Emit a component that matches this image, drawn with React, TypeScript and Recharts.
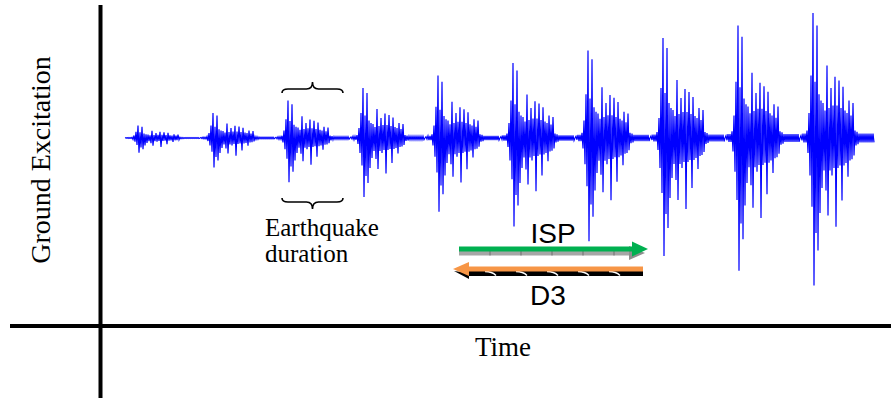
// Incremental scaling of one ground-motion record (ISP) vs. D3
// each burst is the same record, scaled up step by step

import { LineChart, Line, XAxis, YAxis, ReferenceLine } from 'recharts'

const DT = 0.2 // s between samples

// normalised ground motion
const record = [
    // pre-event
    0, 0.02, -0.02, 0.035, -0.035, 0.035, -0.035, 0.06,
    // strong motion
    -0.12, 0.2, -0.3, 0.5, -0.55, 1.0, -1.18, 0.45, -0.76, 0.9,
    -0.9, 0.35, -0.6, 0.3, -0.4, 0.28, -0.26, 0.22, -0.42, 0.58,
    -0.62, 0.24, -0.26, 0.4, -0.3, 0.26, -0.24, 0.49, -0.71, 0.26,
    -0.24, 0.46, -0.22, 0.24, -0.5, 0.41, -0.22, 0.22, -0.2, 0.2,
    -0.31, 0.3, -0.18, 0.18, -0.17, 0.28, -0.14,
    // coda
    0.06, -0.06, 0.05, -0.05, 0.035, -0.035, 0.035, -0.035, 0.035, -0.035,
    0.035, -0.035, 0.035, -0.035, 0.035, -0.035, 0.035, -0.035, 0.035, -0.035,
]

// intensity levels
const scaleFactors = [0.1, 0.2, 0.3, 0.4, 0.5, 0.6, 0.7, 0.8, 0.9, 1.0]

const data = scaleFactors.flatMap((s, k) =>
    record.map((a, i) => ({
        t: +((k * record.length + i) * DT).toFixed(2),
        acc: +(s * a).toFixed(4),
    }))
)

const SERIF = '"Liberation Serif", "Times New Roman", serif'
const SANS = '"Liberation Sans", Arial, sans-serif'

const brace = (dir: number) => (p: any) => {
    const { x1, x2, y1: y } = p
    const cx = (x1 + x2) / 2
    const h = 4 * dir
    const tip = 11 * dir
    const d = `M${x1},${y} Q${x1},${y - h} ${x1 + 6},${y - h} L${cx - 6},${y - h} ` +
        `Q${cx},${y - h} ${cx},${y - tip} Q${cx},${y - h} ${cx + 6},${y - h} ` +
        `L${x2 - 6},${y - h} Q${x2},${y - h} ${x2},${y}`
    return <path d={d} fill="none" stroke="#000" strokeWidth={1.6} />
}

const IspArrow = (p: any) => {
    const { x1, x2, y1: y } = p
    const hx = x2 - 16
    const ticks: number[] = []
    for (let x = x1 + 31; x < hx; x += 31) ticks.push(x)
    return (
        <g>
            <rect x={x1} y={y + 2} width={hx - x1} height={4.5} fill="#a6a6a6" />
            {ticks.map((x) => (
                <line key={x} x1={x} x2={x} y1={y + 2} y2={y + 6.5} stroke="#6f6f6f" />
            ))}
            <polygon points={`${hx - 3},${y - 3} ${x2 - 3},${y + 4} ${hx - 3},${y + 11}`} fill="#8f8f8f" />
            <rect x={x1} y={y - 2.5} width={hx - x1} height={5} fill="#00b050" />
            <polygon points={`${hx},${y - 7.5} ${x2},${y} ${hx},${y + 7.5}`} fill="#00b050" />
        </g>
    )
}

const D3Arrow = (p: any) => {
    const { x1, x2, y1: y } = p
    const hx = x1 + 16
    const stripes: number[] = []
    for (let x = x1 + 32; x < x2 - 8; x += 31) stripes.push(x)
    return (
        <g>
            <rect x={hx - 2} y={y + 1.5} width={x2 - hx + 2} height={5.5} fill="#000" />
            {stripes.map((x) => (
                <path key={x} d={`M${x},${y + 2.5} q7,0 11,4`} fill="none" stroke="#fff" strokeWidth={1.5} />
            ))}
            <polygon points={`${x1 + 1},${y + 2} ${hx},${y + 10} ${hx},${y + 4}`} fill="#000" />
            <rect x={hx} y={y - 2.5} width={x2 - hx} height={5} fill="#f79646" />
            <polygon points={`${x1},${y} ${hx},${y - 7} ${hx},${y + 7}`} fill="#f79646" />
        </g>
    )
}

export default function App() {
    return (
        <div style={{ position: 'absolute', left: 0, top: 0, width: 891, height: 401, background: '#fff' }}>
            <LineChart width={891} height={401} data={data} margin={{ top: 0, right: 0, left: 0, bottom: 0 }}>
                <XAxis dataKey="t" type="number" domain={[-25, 153.2]} allowDataOverflow hide />
                <YAxis type="number" domain={[-2.104, 1.104]} allowDataOverflow hide />
                <ReferenceLine segment={[{ x: -4.9, y: 1.064 }, { x: -4.9, y: -2.08 }]} stroke="#000" strokeWidth={4} />
                <ReferenceLine segment={[{ x: -23, y: -1.504 }, { x: 153.2, y: -1.504 }]} stroke="#000" strokeWidth={4} />
                <ReferenceLine segment={[{ x: 31.4, y: 0.36 }, { x: 43.6, y: 0.36 }]} shape={brace(1)} />
                <ReferenceLine segment={[{ x: 31.4, y: -0.48 }, { x: 43.6, y: -0.48 }]} shape={brace(-1)} />
                <ReferenceLine segment={[{ x: 66.8, y: -0.888 }, { x: 104.6, y: -0.888 }]} shape={IspArrow} />
                <ReferenceLine segment={[{ x: 65.6, y: -1.048 }, { x: 103.6, y: -1.048 }]} shape={D3Arrow} />
                <Line
                    type="linear"
                    dataKey="acc"
                    stroke="#0000ff"
                    strokeWidth={1.2}
                    dot={false}
                    activeDot={false}
                    isAnimationActive={false}
                />
            </LineChart>
            <svg width={891} height={401} style={{ position: 'absolute', left: 0, top: 0, pointerEvents: 'none' }}>
                <text transform="translate(50,160) rotate(-90)" textAnchor="middle" fontFamily={SERIF} fontSize={28}>
                    Ground Excitation
                </text>
                <text x={503} y={356} textAnchor="middle" fontFamily={SERIF} fontSize={27}>Time</text>
                <text x={265} y={236} fontFamily={SERIF} fontSize={25}>Earthquake</text>
                <text x={265} y={262} fontFamily={SERIF} fontSize={25}>duration</text>
                <text x={553} y={243} textAnchor="middle" fontFamily={SANS} fontSize={28}>ISP</text>
                <text x={548} y={305} textAnchor="middle" fontFamily={SANS} fontSize={28}>D3</text>
            </svg>
        </div>
    )
}
